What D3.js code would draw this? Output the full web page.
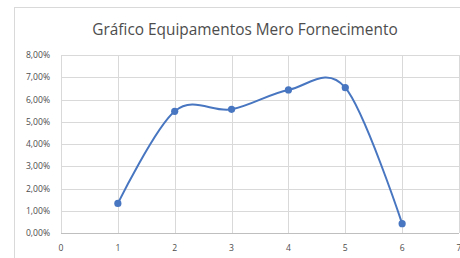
<!DOCTYPE html>
<html>
<head>
<meta charset="utf-8">
<script src="https://cdn.jsdelivr.net/npm/d3@7"></script>
<style>
  html, body { margin: 0; padding: 0; background: #fff; }
  svg { display: block; }
</style>
</head>
<body>
<div id="chart"></div>
<script>
const title = "Gráfico Equipamentos Mero Fornecimento";
const xValues = [1, 2, 3, 4, 5, 6];
const seriesValues = [0.0133, 0.0547, 0.0556, 0.0643, 0.0653, 0.0042];
const xTicks = [0, 1, 2, 3, 4, 5, 6, 7];
const yTicks = [0, 0.01, 0.02, 0.03, 0.04, 0.05, 0.06, 0.07, 0.08];

const width = 460;
const height = 258;

const svg = d3.select("#chart")
  .append("svg")
  .attr("width", width)
  .attr("height", height);

// chart frame (cut off at right/bottom like the screenshot)
svg.append("rect")
  .attr("x", 14.5)
  .attr("y", 7.5)
  .attr("width", 470)
  .attr("height", 270)
  .attr("fill", "#fff")
  .attr("stroke", "#d9d9d9");

svg.append("text")
  .attr("x", 245)
  .attr("y", 35)
  .attr("text-anchor", "middle")
  .attr("font-family", "Open Sans, sans-serif")
  .attr("font-size", 15.4)
  .attr("fill", "#4d4d4d")
  .text(title);

const x = d3.scaleLinear().domain([0, 7]).range([61, 459]);
const y = d3.scaleLinear().domain([0, 0.08]).range([233, 55]);

const locale = d3.formatLocale({ decimal: ",", thousands: ".", grouping: [3], currency: ["", ""] });
const pct = locale.format(".2%");

// horizontal gridlines
svg.append("g")
  .selectAll("line")
  .data(yTicks)
  .join("line")
  .attr("x1", x(0))
  .attr("x2", x(7))
  .attr("y1", d => Math.round(y(d)) + 0.5)
  .attr("y2", d => Math.round(y(d)) + 0.5)
  .attr("stroke", "#d9d9d9")
  .attr("stroke-width", 1);

// vertical gridlines
svg.append("g")
  .selectAll("line")
  .data(xTicks)
  .join("line")
  .attr("x1", d => Math.round(x(d)) + 0.5)
  .attr("x2", d => Math.round(x(d)) + 0.5)
  .attr("y1", y(0.08))
  .attr("y2", y(0))
  .attr("stroke", "#d9d9d9")
  .attr("stroke-width", 1);

// bottom axis line
svg.append("line")
  .attr("x1", x(0))
  .attr("x2", x(7))
  .attr("y1", Math.round(y(0)) + 0.5)
  .attr("y2", Math.round(y(0)) + 0.5)
  .attr("stroke", "#bfbfbf");

svg.append("g")
  .selectAll("text")
  .data(yTicks)
  .join("text")
  .attr("x", 50)
  .attr("y", d => y(d) + 3)
  .attr("text-anchor", "end")
  .attr("font-family", "Open Sans, sans-serif")
  .attr("font-size", 8.6)
  .attr("fill", "#4d4d4d")
  .text(d => pct(d));

svg.append("g")
  .selectAll("text")
  .data(xTicks)
  .join("text")
  .attr("x", d => x(d))
  .attr("y", 251)
  .attr("text-anchor", "middle")
  .attr("font-family", "Open Sans, sans-serif")
  .attr("font-size", 8.6)
  .attr("fill", "#4d4d4d")
  .text(d => d);

const points = xValues.map((d, i) => [d, seriesValues[i]]);

const line = d3.line()
  .x(d => x(d[0]))
  .y(d => y(d[1]))
  .curve(d3.curveCatmullRom.alpha(0));

svg.append("path")
  .datum(points)
  .attr("d", line)
  .attr("fill", "none")
  .attr("stroke", "#4876c0")
  .attr("stroke-width", 2);

svg.append("g")
  .selectAll("circle")
  .data(points)
  .join("circle")
  .attr("cx", d => x(d[0]))
  .attr("cy", d => y(d[1]))
  .attr("r", 3.6)
  .attr("fill", "#4876c0");
</script>
</body>
</html>
